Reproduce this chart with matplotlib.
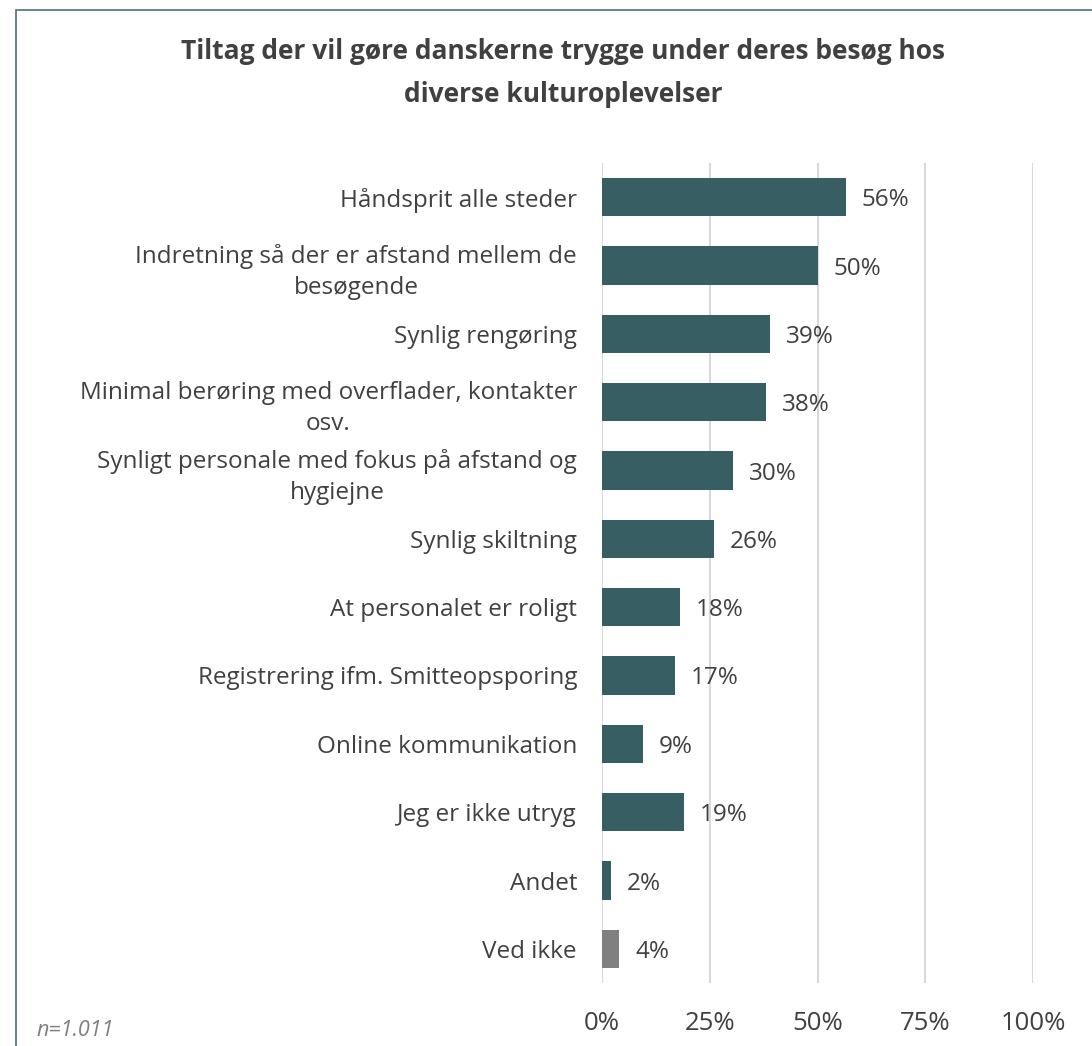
import matplotlib
matplotlib.use("Agg")
import matplotlib.pyplot as plt
from matplotlib.patches import Rectangle

categories = [
    "Håndsprit alle steder",
    "Indretning så der er afstand mellem de\nbesøgende",
    "Synlig rengøring",
    "Minimal berøring med overflader, kontakter\nosv.",
    "Synligt personale med fokus på afstand og\nhygiejne",
    "Synlig skiltning",
    "At personalet er roligt",
    "Registrering ifm. Smitteopsporing",
    "Online kommunikation",
    "Jeg er ikke utryg",
    "Andet",
    "Ved ikke",
]
values = [56.5, 50, 39, 38, 30.5, 26, 18, 17, 9.5, 19, 2, 4]
labels = ["56%", "50%", "39%", "38%", "30%", "26%", "18%", "17%", "9%", "19%", "2%", "4%"]
xticks = [0, 25, 50, 75, 100]
xticklabels = ["0%", "25%", "50%", "75%", "100%"]

plt.rcParams['font.family'] = ['Open Sans', 'DejaVu Sans']
teal = "#375E63"
grey = "#808080"
txt = "#404040"
colors = [teal] * (len(values) - 1) + [grey]

fig = plt.figure(figsize=(10.92, 10.46), dpi=100)
ax = fig.add_axes([602/1092, 1 - 983/1046, (1033-602)/1092, (983-163)/1046])

y = list(range(len(values)))
ax.barh(y, values, height=0.56, color=colors, zorder=3)
for yi, v, lab in zip(y, values, labels):
    ax.annotate(lab, (v, yi), xytext=(11.5, 0), textcoords='offset points',
                va='center_baseline', ha='left', fontsize=17.5, color=txt)

ax.set_ylim(len(values) - 0.5, -0.5)
ax.set_xlim(0, 100)
ax.set_xticks(xticks)
ax.set_xticklabels(xticklabels, fontsize=18.5, color=txt)
ax.set_yticks(y)
ax.set_yticklabels(categories, fontsize=17.5, color=txt, multialignment='center', linespacing=1.4)
ax.tick_params(axis='both', length=0)
ax.tick_params(axis='y', pad=18)
ax.tick_params(axis='x', pad=20)
ax.grid(axis='x', color='#D9D9D9', linewidth=1.5, zorder=0)
for s in ax.spines.values():
    s.set_visible(False)

fig.text(563/1092, 1 - 73/1046, "Tiltag der vil gøre danskerne trygge under deres besøg hos\ndiverse kulturoplevelser",
         ha='center', va='center', fontsize=19, fontweight='bold', color=txt, linespacing=1.75)
fig.text(36/1092, 1 - 1030/1046, "n=1.011", ha='left', va='center', fontsize=15.5,
         style='italic', color='#7F7F7F')

# figure frame (cut at right/bottom)
fig.patches.append(Rectangle((16/1092, -0.1), 1.2, 1 - 10/1046 + 0.1, transform=fig.transFigure,
                             fill=False, edgecolor='#4F6E72', linewidth=1.2))

fig.savefig("out.png", dpi=100)
